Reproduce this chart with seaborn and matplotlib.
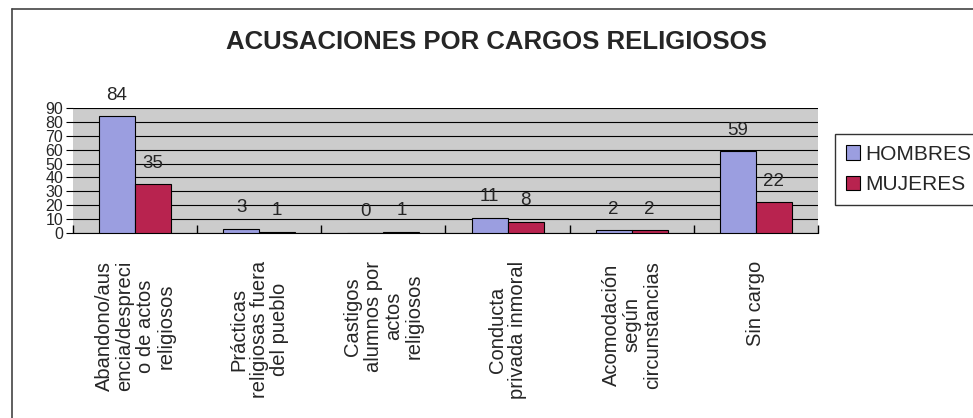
import pandas as pd
import seaborn as sns
import matplotlib.pyplot as plt
from matplotlib.lines import Line2D

# Data
categorias = ['Abandono/aus\nencia/despreci\no de actos\nreligiosos',
              'Prácticas\nreligiosas fuera\ndel pueblo',
              'Castigos\nalumnos por\nactos\nreligiosos',
              'Conducta\nprivada inmoral',
              'Acomodación\nsegún\ncircunstancias',
              'Sin cargo']
hombres = [84, 3, 0, 11, 2, 59]
mujeres = [35, 1, 1, 8, 2, 22]
series = ['HOMBRES', 'MUJERES']
colores = ['#9b9ee0', '#b8234f']

df = pd.DataFrame({
    'categoria': categorias * 2,
    'valor': hombres + mujeres,
    'serie': [series[0]] * len(categorias) + [series[1]] * len(categorias),
})

sns.set_style('white')
plt.rcParams['font.family'] = ['Liberation Sans', 'DejaVu Sans']

fig = plt.figure(figsize=(9.73, 4.18), dpi=100)
ax = fig.add_axes([0.075, 0.4426, 0.7657, 0.299])

sns.barplot(data=df, x='categoria', y='valor', hue='serie', palette=colores,
            width=0.58, gap=0, edgecolor='black', linewidth=0.8, ax=ax,
            saturation=1, zorder=3)

ax.set_facecolor('#cccccc')
ax.set_ylim(0, 90)
ax.set_yticks(range(0, 91, 10))
ax.yaxis.grid(True, color='black', linewidth=0.8, zorder=0)
ax.set_axisbelow(True)
ax.set_xlim(-0.5, len(categorias) - 0.5)
for s in ['top', 'right', 'left']:
    ax.spines[s].set_visible(False)
ax.spines['bottom'].set_color('black')
ax.set_xlabel('')
ax.set_ylabel('')

# category boundary ticks
ax.set_xticks([i + 0.5 for i in range(-1, len(categorias))], minor=True)
ax.tick_params(axis='x', which='minor', length=6, width=1, color='black', direction='in', bottom=True)
ax.tick_params(axis='x', which='major', length=0, pad=20)
ax.tick_params(axis='y', length=5, width=0.8, color='black', left=True, pad=2, labelsize=11.5)
ax.set_xticklabels(categorias, rotation=90, fontsize=14.5, linespacing=1.1,
                   ha='center', va='top', multialignment='center')

for cont in ax.containers:
    ax.bar_label(cont, padding=9, fontsize=13.5)

ax.legend(loc='upper left', bbox_to_anchor=(1.023, 0.79), frameon=True, fancybox=False,
          edgecolor='black', fontsize=15, handlelength=0.7, handleheight=0.7,
          handletextpad=0.25, borderpad=0.5, labelspacing=0.55, borderaxespad=0,
          title=None)

fig.text(0.51, 0.9, 'ACUSACIONES POR CARGOS RELIGIOSOS', ha='center', va='center',
         fontsize=18.5, fontweight='bold')

# outer chart frame (top and left edges)
fig.add_artist(Line2D([0.0123, 0.0123], [0.0, 0.978], color='#444444', linewidth=1.2))
fig.add_artist(Line2D([0.0123, 1.0], [0.978, 0.978], color='#444444', linewidth=1.2))

fig.savefig('out.png', dpi=100)
